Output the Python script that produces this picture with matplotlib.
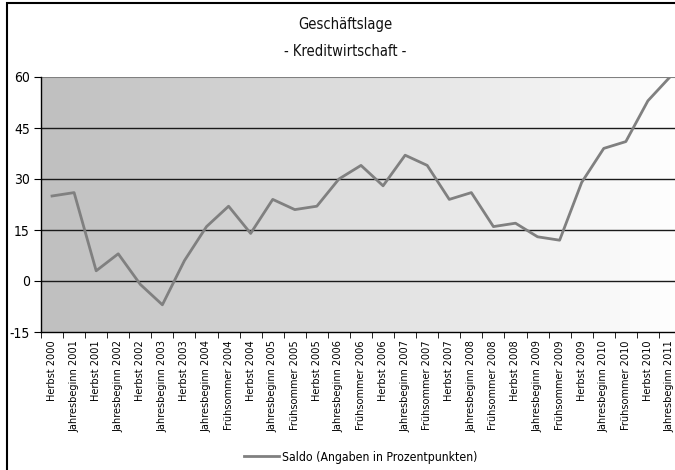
import matplotlib
matplotlib.use("Agg")
import matplotlib.pyplot as plt
import numpy as np
from matplotlib.patches import Rectangle
from matplotlib import font_manager as fm

categories = [
    "Herbst 2000", "Jahresbeginn 2001", "Herbst 2001", "Jahresbeginn 2002",
    "Herbst 2002", "Jahresbeginn 2003", "Herbst 2003", "Jahresbeginn 2004",
    "Frühsommer 2004", "Herbst 2004", "Jahresbeginn 2005", "Frühsommer 2005",
    "Herbst 2005", "Jahresbeginn 2006", "Frühsommer 2006", "Herbst 2006",
    "Jahresbeginn 2007", "Frühsommer 2007", "Herbst 2007", "Jahresbeginn 2008",
    "Frühsommer 2008", "Herbst 2008", "Jahresbeginn 2009", "Frühsommer 2009",
    "Herbst 2009", "Jahresbeginn 2010", "Frühsommer 2010", "Herbst 2010",
    "Jahresbeginn 2011",
]
saldo = [25, 26, 3, 8, -1, -7, 6, 16, 22, 14, 24, 21, 22, 30, 34, 28, 37, 34,
         24, 26, 16, 17, 13, 12, 29, 39, 41, 53, 60]
yticks = [-15, 0, 15, 30, 45, 60]
title_lines = ["Geschäftslage", "- Kreditwirtschaft -"]
legend_label = "Saldo (Angaben in Prozentpunkten)"

names = {f.name for f in fm.fontManager.ttflist}
if 'Liberation Sans Narrow' in names:
    plt.rcParams['font.family'] = ['Liberation Sans Narrow', 'DejaVu Sans']
    scale = 1.0
else:
    plt.rcParams['font.family'] = ['DejaVu Sans']
    plt.rcParams['font.stretch'] = 'condensed'
    scale = 1.0

W, H = 675, 470
fig = plt.figure(figsize=(W / 100, H / 100), dpi=100)
fig.patch.set_facecolor('white')

# outer frame
fig.patches.append(Rectangle((7 / W, -0.05), 1.2, (H - 3) / H + 0.05,
                             transform=fig.transFigure, fill=False,
                             edgecolor='black', linewidth=1.5, zorder=0))

ax = fig.add_axes([41 / W, (H - 332) / H, 640 / W, (332 - 77) / H])
ax.set_facecolor('none')
n = len(categories)
x = np.arange(n)

# gradient background
grad = np.linspace(0.75, 1.0, 256)
img = np.stack([grad, grad, grad], axis=-1)[np.newaxis, :, :].repeat(2, axis=0)
ax.imshow(img, extent=[0, 1, 0, 1], transform=ax.transAxes, aspect='auto',
          zorder=0, interpolation='bilinear')

ax.set_xlim(-0.5, n - 0.5)
ax.set_ylim(yticks[0], yticks[-1])

for yv in yticks[1:]:
    ax.axhline(yv, color='#1a1a1a' if yv != 60 else '#808080',
               linewidth=1.0 if yv != 60 else 1.5, zorder=1)

ax.plot(x, saldo, color='#808080', linewidth=2, zorder=3, label=legend_label)

ax.set_yticks(yticks)
ax.set_yticklabels([str(v) for v in yticks], fontsize=10)
ax.set_xticks(x)
ax.set_xticklabels(categories, rotation=90, fontsize=7.8)
ax.set_xticks(np.arange(-0.5, n, 1), minor=True)
ax.tick_params(axis='x', which='major', length=0, pad=6)
ax.tick_params(axis='x', which='minor', length=4, direction='out', color='black')
ax.tick_params(axis='y', length=5, direction='out', color='black', pad=3)

for side in ['top', 'right']:
    ax.spines[side].set_visible(False)
ax.spines['left'].set_color('black')
ax.spines['bottom'].set_color('black')
ax.spines['left'].set_linewidth(1.0)
ax.spines['bottom'].set_linewidth(1.0)

fig.text(345 / W, 1 - 25 / H, title_lines[0], ha='center', va='center',
         fontsize=10.5, color='#111111')
fig.text(345 / W, 1 - 52 / H, title_lines[1], ha='center', va='center',
         fontsize=10.5, color='#111111')

leg = fig.legend(loc='center', bbox_to_anchor=(361 / W, 1 - 457 / H), frameon=False,
                 fontsize=8.8, handlelength=2.8, handletextpad=0.3)

fig.savefig('out.png', dpi=100)
